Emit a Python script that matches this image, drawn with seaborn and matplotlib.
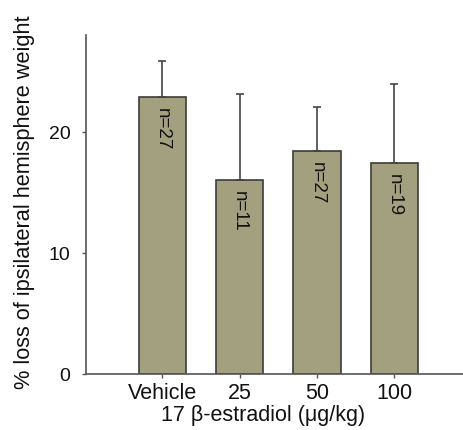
import matplotlib
matplotlib.use("Agg")
import matplotlib.pyplot as plt
import seaborn as sns
import pandas as pd
import numpy as np

# values
doses = ["Vehicle", "25", "50", "100"]
mean_loss = [22.9, 16.0, 18.4, 17.4]
err_upper = [3.0, 7.1, 3.7, 6.6]
n_labels = ["n=27", "n=11", "n=27", "n=19"]

sns.set_style("white")
plt.rcParams["font.family"] = ["Liberation Sans", "DejaVu Sans"]

df = pd.DataFrame({"dose": doses, "loss": mean_loss})

fig = plt.figure(figsize=(4.64, 4.31), dpi=100)
ax = fig.add_axes([0.185, 0.13, 0.815, 0.786])

sns.barplot(data=df, x="dose", y="loss", order=doses, color="#a3a07f",
            edgecolor="#3c3c3c", linewidth=1.2, width=0.61, saturation=1,
            errorbar=None, ax=ax)

pos = np.arange(len(doses))
ax.errorbar(pos, mean_loss, yerr=[np.zeros(len(doses)), err_upper], fmt="none",
            ecolor="#454545", elinewidth=1.2, capsize=3, capthick=1.2, zorder=1)

for i, (m, lab) in enumerate(zip(mean_loss, n_labels)):
    ax.text(i, m - 0.8, lab, rotation=270, ha="center", va="top",
            fontsize=13.5, color="#111111")

ax.set_xlim(-0.99, 3.9)
ax.set_ylim(0, 28)
ax.set_yticks([0, 10, 20])

for s in ["top", "right"]:
    ax.spines[s].set_visible(False)
for s in ["left", "bottom"]:
    ax.spines[s].set_color("#555555")
    ax.spines[s].set_linewidth(1.2)

ax.tick_params(axis="both", which="both", direction="out", length=3, width=1,
               color="#555555", labelcolor="#111111", left=True, bottom=True)
ax.tick_params(axis="y", labelsize=14, pad=8)
ax.tick_params(axis="x", labelsize=15.5, pad=3)

ax.set_ylabel("% loss of ipsilateral hemisphere weight", fontsize=15.7, color="#111111")
ax.set_xlabel("17 \u03b2-estradiol (\u03bcg/kg)", fontsize=15.5, color="#111111")
ax.yaxis.set_label_coords(-0.135, 0.51)
ax.xaxis.set_label_coords(0.468, -0.088)

fig.savefig("out.png", dpi=100)
